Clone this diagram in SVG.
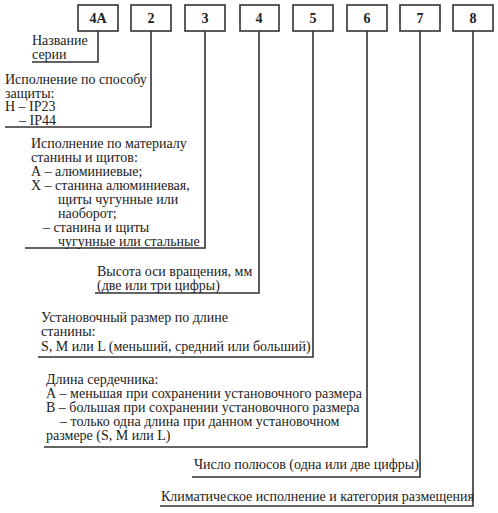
<svg xmlns="http://www.w3.org/2000/svg" width="498" height="513" viewBox="0 0 498 513">
<style>
.box{fill:#fff;stroke:#333;stroke-width:1.6}
.ln{fill:none;stroke:#333;stroke-width:1.6}
.lbl{font-family:"Liberation Serif",serif;font-size:14px;fill:#222;text-anchor:middle;font-weight:bold}
.t{font-family:"Liberation Serif",serif;font-size:14px;fill:#222}
</style>
<rect width="498" height="513" fill="#fff"/>
<g id="b1"><rect class="box" x="78" y="5" width="40" height="26"/><text class="lbl" x="98" y="23">4A</text></g>
<g id="b2"><rect class="box" x="131" y="5" width="40" height="26"/><text class="lbl" x="151" y="23">2</text></g>
<g id="b3"><rect class="box" x="185" y="5" width="40" height="26"/><text class="lbl" x="205" y="23">3</text></g>
<g id="b4"><rect class="box" x="240" y="5" width="39" height="26"/><text class="lbl" x="259" y="23">4</text></g>
<g id="b5"><rect class="box" x="293" y="5" width="40" height="26"/><text class="lbl" x="313" y="23">5</text></g>
<g id="b6"><rect class="box" x="347" y="5" width="40" height="26"/><text class="lbl" x="367" y="23">6</text></g>
<g id="b7"><rect class="box" x="400" y="5" width="40" height="26"/><text class="lbl" x="420" y="23">7</text></g>
<g id="b8"><rect class="box" x="453" y="5" width="40" height="26"/><text class="lbl" x="473" y="23">8</text></g>
<g id="connectors">
<polyline class="ln" points="98,31 98,62 32,62"/>
<polyline class="ln" points="151,31 151,127 5,127"/>
<polyline class="ln" points="205,31 205,248 25,248"/>
<polyline class="ln" points="259,31 259,293 95,293"/>
<polyline class="ln" points="313,31 313,357 38,357"/>
<polyline class="ln" points="367,31 367,447 44,447"/>
<polyline class="ln" points="420,31 420,477 192,477"/>
<polyline class="ln" points="473,31 473,506 160,506"/>
</g>
<g id="n1"><text class="t" x="32" y="45">Название</text><text class="t" x="32" y="59">серии</text></g>
<g id="n2"><text class="t" x="5" y="84">Исполнение по способу</text><text class="t" x="5" y="97.5">защиты:</text><text class="t" x="5" y="111">Н – IP23</text><text class="t" x="19" y="124.5">– IP44</text></g>
<g id="n3"><text class="t" x="31" y="148">Исполнение по материалу</text><text class="t" x="31" y="162">станины и щитов:</text><text class="t" x="31" y="176">А – алюминиевые;</text><text class="t" x="31" y="190">Х – станина алюминиевая,</text><text class="t" x="58" y="204">щиты чугунные или</text><text class="t" x="58" y="218">наоборот;</text><text class="t" x="43" y="232">– станина и щиты</text><text class="t" x="58" y="245.5">чугунные или стальные</text></g>
<g id="n4"><text class="t" x="97" y="276">Высота оси вращения, мм</text><text class="t" x="97" y="290">(две или три цифры)</text></g>
<g id="n5"><text class="t" x="41" y="322">Установочный размер по длине</text><text class="t" x="41" y="336">станины:</text><text class="t" x="41" y="351">S, M или L (меньший, средний или больший)</text></g>
<g id="n6"><text class="t" x="46" y="384">Длина сердечника:</text><text class="t" x="46" y="398">А – меньшая при сохранении установочного размера</text><text class="t" x="46" y="412">В – большая при сохранении установочного размера</text><text class="t" x="60" y="426">– только одна длина при данном установочном</text><text class="t" x="46" y="440">размере (S, M или L)</text></g>
<g id="n7"><text class="t" x="194" y="469">Число полюсов (одна или две цифры)</text></g>
<g id="n8"><text class="t" x="161" y="501">Климатическое исполнение и категория размещения</text></g>
</svg>
